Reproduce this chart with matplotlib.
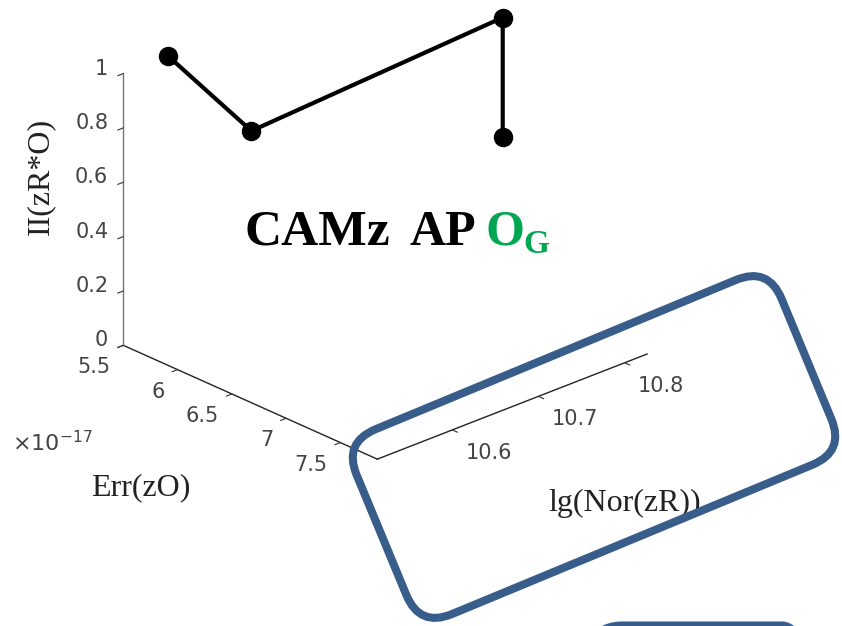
import numpy as np
import matplotlib
matplotlib.use('Agg')
import matplotlib.pyplot as plt
from matplotlib.patches import FancyBboxPatch
from matplotlib.transforms import Affine2D

plt.rcParams['font.family'] = ['DejaVu Sans']

# data: Err(zO) in units of 1e-17, lg(Nor(zR)), II(zR*O)
err_zo = [5.5, 6.68, 6.51, 6.51]
lg_nor_zr = [10.565, 10.513, 10.826, 10.826]
ii_zro = [1.0, 1.0, 1.0, 0.56]

x_ticks = [5.5, 6, 6.5, 7, 7.5]
y_ticks = [10.6, 10.7, 10.8]
z_ticks = [0, 0.2, 0.4, 0.6, 0.8, 1]
x_lim = (5.5, 7.84)
y_lim = (10.513, 10.826)
z_lim = (0, 1)

W, H = 842, 626
fig = plt.figure(figsize=(W / 100, H / 100), dpi=100)
ax = fig.add_axes([0.2, 0.1, 0.6, 0.6 * W / H], projection='3d')
ax.set_proj_type('ortho')
ax.view_init(elev=24.7, azim=-43)
ax.set_box_aspect((1.245, 1.233, 1.0))

ax.plot(err_zo, lg_nor_zr, ii_zro, '-o', color='k', lw=3, ms=13)

ax.set_xlim(x_lim)
ax.set_ylim(y_lim)
ax.set_zlim(z_lim)
ax.set_xticks(x_ticks)
ax.set_yticks(y_ticks)
ax.set_zticks(z_ticks)
ax.set_xticklabels([''] * len(x_ticks))
ax.set_yticklabels([''] * len(y_ticks))
ax.set_zticklabels([''] * len(z_ticks))
ax.tick_params(color='#333333')

ax.grid(False)
for axis in (ax.xaxis, ax.yaxis, ax.zaxis):
    axis.set_pane_color((1, 1, 1, 0))
    axis.pane.set_edgecolor((1, 1, 1, 0))
    axis._axinfo['tick']['inward_factor'] = 0.25
    axis._axinfo['tick']['outward_factor'] = 0.0
    axis.line.set_linewidth(1.0)
ax.xaxis.line.set_color('#222222')
ax.yaxis.line.set_color('#222222')
ax.zaxis.line.set_color('#777777')

# put the z axis on the left-most vertical edge
fig.canvas.draw()
best = None
for opt in ('lower', 'upper', 'default'):
    try:
        ax.zaxis.set_ticks_position(opt)
    except Exception:
        continue
    fig.canvas.draw()
    line = ax.zaxis.line
    xd = ax.transData.transform(np.column_stack([line.get_xdata(), line.get_ydata()]))[:, 0].mean()
    if best is None or xd < best[0]:
        best = (xd, opt)
if best is not None:
    ax.zaxis.set_ticks_position(best[1])


def project(x, y, z):
    M = ax.get_proj()
    v = M @ np.array([x, y, z, 1.0])
    return ax.transData.transform((v[0] / v[3], v[1] / v[3]))


# fit the axes position so the box lands where the reference has it
fig.canvas.draw()
corners = [(x_lim[0], y_lim[0], z_lim[0]), (x_lim[1], y_lim[0], z_lim[0]),
           (x_lim[1], y_lim[1], z_lim[0]), (x_lim[0], y_lim[0], z_lim[1])]
targets = np.array([(123, 346), (377, 459), (647, 354), (124, 73)], float)
targets[:, 1] = H - targets[:, 1]
disp = np.array([project(*c) for c in corners])
pos = ax.get_position()
L0 = pos.width * W
C0 = np.array([(pos.x0 + pos.width / 2) * W, (pos.y0 + pos.height / 2) * H])
q = (disp - C0) / L0
A = []
b = []
for (qx, qy), (tx, ty) in zip(q, targets):
    A.append([1, 0, qx]); b.append(tx)
    A.append([0, 1, qy]); b.append(ty)
cx, cy, L = np.linalg.lstsq(np.array(A), np.array(b), rcond=None)[0]
ax.set_position([(cx - L / 2) / W, (cy - L / 2) / H, L / W, L / H])
fig.canvas.draw()

# tick labels, placed MATLAB style next to the projected ticks
tick_kw = dict(fontsize=15, color='#444444', va='center')
for t in x_ticks:
    px, py = project(t, y_lim[0], z_lim[0])
    fig.text((px - 13) / W, (py - 22) / H, f'{t:g}', ha='right', **tick_kw)
for t in y_ticks:
    px, py = project(x_lim[1], t, z_lim[0])
    fig.text((px + 13) / W, (py - 23) / H, f'{t:g}', ha='left', **tick_kw)
for t in z_ticks:
    px, py = project(x_lim[0], y_lim[0], t)
    fig.text((px - 15) / W, (py + 5) / H, f'{t:g}', ha='right', **tick_kw)

# axis labels
serif = ['Liberation Serif', 'DejaVu Serif']
fig.text(141 / W, 1 - 488 / H, 'Err(zO)', fontsize=23, family=serif,
         ha='center', va='center', color='#222222')
fig.text(625 / W, 1 - 503 / H, 'lg(Nor(zR))', fontsize=23, family=serif,
         ha='center', va='center', color='#222222')
fig.text(41 / W, 1 - 176 / H, 'II(zR*O)', fontsize=23, family=serif,
         ha='center', va='center', rotation=90, color='#222222')
fig.text(52 / W, 1 - 443 / H, r'$\times\mathregular{10^{-17}}$', fontsize=16,
         ha='center', va='center', color='#444444')

# overlay title
green = '#00A650'
title_kw = dict(fontweight='bold', family=serif, va='baseline')
fig.text(244 / W, 1 - 245 / H, 'CAMz', fontsize=37, color='k', **title_kw)
fig.text(409 / W, 1 - 245 / H, 'AP', fontsize=36, color='k', **title_kw)
fig.text(485 / W, 1 - 245 / H, 'O', fontsize=36, color=green, **title_kw)
fig.text(523 / W, 1 - 253 / H, 'G', fontsize=24, color=green, **title_kw)

# rounded callout boxes
blue = '#385D8A'
cxr, cyr, bw, bh = 594, H - 447, 460, 200
tr = Affine2D().rotate_deg_around(cxr, cyr, 22.5).scale(1 / W, 1 / H) + fig.transFigure
box1 = FancyBboxPatch((cxr - bw / 2, cyr - bh / 2), bw, bh,
                      boxstyle='round,pad=0,rounding_size=35',
                      transform=tr, fill=False, edgecolor=blue, lw=5.8, zorder=5)
fig.add_artist(box1)
tr2 = Affine2D().scale(1 / W, 1 / H) + fig.transFigure
box2 = FancyBboxPatch((592, -150), 220, 150.5,
                      boxstyle='round,pad=0,rounding_size=30',
                      transform=tr2, fill=False, edgecolor=blue, lw=5.8, zorder=5)
fig.add_artist(box2)

fig.savefig('out.png', dpi=100)
